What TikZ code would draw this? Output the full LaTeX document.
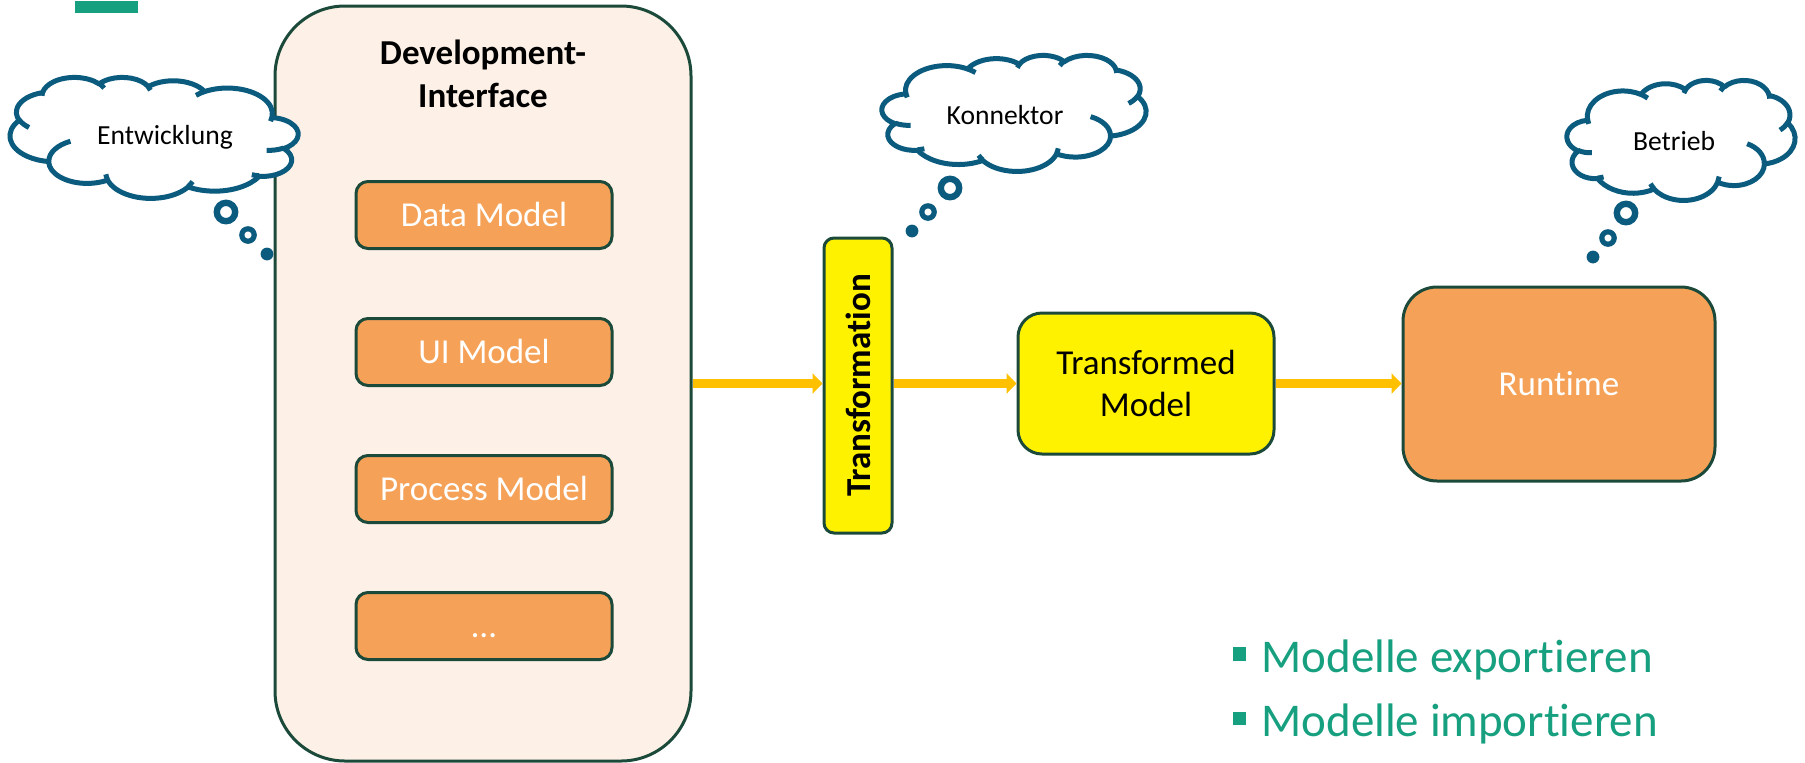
\documentclass[tikz,border=0pt]{standalone}
\usepackage{fontspec}
\setmainfont{Carlito}[Ligatures=NoCommon]
\usetikzlibrary{arrows.meta}
\definecolor{boxline}{HTML}{1C4A3A}
\definecolor{difill}{HTML}{FDF0E6}
\definecolor{modelfill}{HTML}{F5A258}
\definecolor{flowcol}{HTML}{FFC000}
\definecolor{cloudcol}{HTML}{0B5B7E}
\definecolor{tealgreen}{HTML}{17A07F}
% elliptic arc, angles as seen from the centre
\newcommand\ooarc[4]{arc[x radius=#1, y radius=#2,
	start angle={atan2((#1)*sin(#3),(#2)*cos(#3))},
	delta angle={mod(atan2((#1)*sin((#3)+(#4)),(#2)*cos((#3)+(#4)))-atan2((#1)*sin(#3),(#2)*cos(#3))+720,360)}]}
% thought cloud in a box: corner, x unit, y unit
\newcommand\thoughtcloud[4]{%
	\begin{scope}[shift={(#1,#2)}, x=#3, y=#4, draw=cloudcol, line width=2.5pt, line join=round]
		\filldraw[fill=white] (39,143.7) \ooarc{67.53}{91.90}{-190.487}{123.781} \ooarc{53.33}{72.67}{-144.102}{89.945}
			\ooarc{43.65}{59.45}{-145.808}{99.723} \ooarc{48.57}{65.95}{-130.986}{117.242}
			\ooarc{53.33}{72.73}{-78.709}{109.027} \ooarc{67.75}{92.20}{-46.267}{130.269}
			\ooarc{57.85}{78.67}{0.625}{114.033} \ooarc{67.52}{92.15}{22.452}{115.173}
			\ooarc{77.20}{105.43}{66.243}{75.711} \ooarc{43.60}{59.18}{-274.942}{146.736}
			\ooarc{43.45}{59.45}{-246.829}{152.519} -- cycle;
		\draw (46.93,261.77) \ooarc{43.45}{59.45}{86.742}{26.430}
			(69.28,348.99) \ooarc{43.60}{59.18}{73.610}{11.447}
			(164.78,390.90) \ooarc{67.52}{92.15}{137.624}{14.081}
			(288.27,347.51) \ooarc{67.52}{92.15}{6.453}{15.998}
			(341.29,229.54) \ooarc{57.85}{78.67}{-70.292}{70.917}
			(417.98,153.54) \ooarc{53.33}{72.73}{30.318}{27.752}
			(383.24,54.26) \ooarc{48.57}{65.95}{-13.744}{14.859}
			(290.78,39.52) \ooarc{48.57}{65.95}{-149.181}{18.195}
			(221.41,47.20) \ooarc{43.65}{59.45}{-163.494}{17.686}
			(140,51.92) \ooarc{67.53}{91.90}{-66.707}{12.319}
			(41.27,157.89) \ooarc{67.53}{91.90}{157.654}{11.858};
	\end{scope}}

\begin{document}
\begin{tikzpicture}[x=0.5pt, y=-0.5pt,
	basebox/.style={rectangle, draw=boxline, line width=1.5pt, inner sep=0pt},
	modelbox/.style={basebox, fill=modelfill, rounded corners=6pt, minimum width=128pt, minimum height=33.5pt,
		text=white, text height=11.2pt, text depth=0pt, font=\fontsize{17.5}{21}\selectfont},
	yellowbox/.style={basebox, fill=yellow, font=\fontsize{17.5}{21}\selectfont},
	flow/.style={draw=flowcol, line width=4.5pt, -{Triangle[length=5pt, width=10pt]}},
	cloudtext/.style={inner sep=0pt, font=\fontsize{13.8}{16}\selectfont},
	bubble/.style={draw=cloudcol, fill=white, line width=3.2pt},
	smallbubble/.style={draw=cloudcol, fill=white, line width=2.6pt},
	bullettext/.style={text=tealgreen, anchor=base west, inner sep=0pt, font=\fontsize{23.5}{28}\selectfont}]
	\useasboundingbox (0,0) rectangle (1805,762);
	\fill[tealgreen] (75,1) rectangle (138,13);

	\node[basebox, fill=difill, rounded corners=35pt, minimum width=208pt, minimum height=377.5pt] (devif) at (483,383.5) {};
	\node[align=center, font=\fontsize{17.5}{21.5}\selectfont\bfseries] (devtitle) at (483,73.5) {Development-\\Interface};
	\foreach \y/\name/\txt in {215/datamodel/Data Model, 352/uimodel/UI Model, 489/processmodel/Process Model, 626/moremodel/…} {
		\node[modelbox] (\name) at (484,\y) {\txt};
	}

	\node[yellowbox, rounded corners=5pt, minimum width=34pt, minimum height=147.5pt] (trafo) at (858,385.5) {};
	\node[rotate=90, font=\fontsize{17.5}{21}\selectfont\bfseries] (trafotext) at (trafo.center) {Transformation};
	\node[yellowbox, rounded corners=12pt, minimum width=128pt, minimum height=70.5pt, align=center] (trafomodel) at (1146,383.5) {Transformed\\Model};
	\node[basebox, fill=modelfill, rounded corners=17pt, minimum width=156pt, minimum height=97pt,
		text=white, font=\fontsize{17.5}{21}\selectfont] (runtime) at (1559,384) {Runtime};

	\draw[flow] (devif.east) -- (devif.east -| trafo.west);
	\draw[flow] (trafo.east |- devif.east) -- (trafomodel.west);
	\draw[flow] (trafomodel.east) -- (trafomodel.east -| runtime.west);

	\thoughtcloud{298}{77}{-0.3333pt}{-0.1400pt}
	\node[cloudtext] (entw) at (165,137) {Entwicklung};
	\draw[bubble] (226,212) circle[radius=4.6pt];
	\draw[smallbubble] (248,235) circle[radius=3.1pt];
	\fill[cloudcol] (267,254) circle[radius=3.2pt];

	\thoughtcloud{882}{55}{0.3056pt}{-0.1343pt}
	\node[cloudtext] (konn) at (1005,115) {Konnektor};
	\draw[bubble] (950,188) circle[radius=4.6pt];
	\draw[smallbubble] (928,212) circle[radius=3.1pt];
	\fill[cloudcol] (912,231) circle[radius=3.2pt];

	\thoughtcloud{1567}{80}{0.2639pt}{-0.1389pt}
	\node[cloudtext] (betr) at (1674,141) {Betrieb};
	\draw[bubble] (1626,213) circle[radius=4.6pt];
	\draw[smallbubble] (1608,238) circle[radius=3.1pt];
	\fill[cloudcol] (1593,257) circle[radius=3.2pt];

	\fill[tealgreen] (1233,647) rectangle (1246,661);
	\node[bullettext] (export) at (1261,672) {Modelle exportieren};
	\fill[tealgreen] (1233,712) rectangle (1246,725);
	\node[bullettext] (import) at (1261,736) {Modelle importieren};
\end{tikzpicture}
\end{document}
